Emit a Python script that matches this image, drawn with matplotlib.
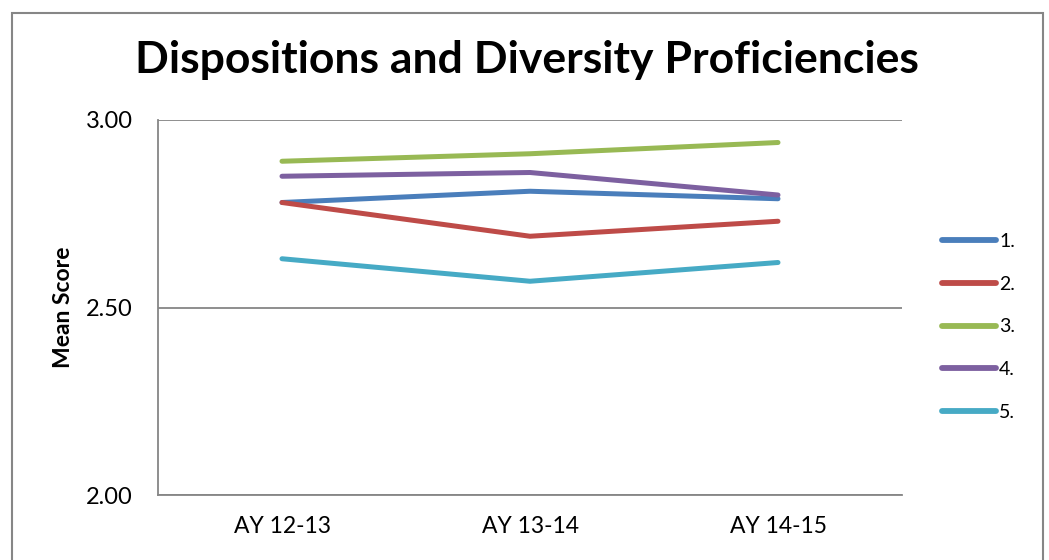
import matplotlib
matplotlib.use("Agg")
import matplotlib.pyplot as plt
from matplotlib.patches import Rectangle

# data
years = ["AY 12-13", "AY 13-14", "AY 14-15"]
labels = ["1.", "2.", "3.", "4.", "5."]
s1 = [2.78, 2.81, 2.79]
s2 = [2.78, 2.69, 2.73]
s3 = [2.89, 2.91, 2.94]
s4 = [2.85, 2.86, 2.80]
s5 = [2.63, 2.57, 2.62]
colors = ["#4A7EBB", "#BE4B48", "#98B954", "#7D60A0", "#46AAC5"]

plt.rcParams['font.family'] = ['Lato', 'DejaVu Sans']

fig = plt.figure(figsize=(10.49, 5.6), dpi=100)
ax = fig.add_axes([158 / 1049, 65 / 560, 744 / 1049, 375 / 560])

x = range(len(years))
for vals, lab, c in zip([s1, s2, s3, s4, s5], labels, colors):
    ax.plot(x, vals, color=c, lw=3.6, solid_capstyle='round', label=lab)

ax.set_xlim(-0.5, 2.5)
ax.set_ylim(2.0, 3.0)
ax.set_yticks([2.0, 2.5, 3.0])
ax.set_yticklabels(["2.00", "2.50", "3.00"])
ax.set_xticks(list(x))
ax.set_xticklabels(years)
ax.tick_params(axis='x', length=0, labelsize=16.5, pad=15)
ax.tick_params(axis='y', length=0, labelsize=17, pad=18)
ax.grid(axis='y', color='#868686', lw=1.3)
ax.set_axisbelow(True)
for side in ['top', 'right']:
    ax.spines[side].set_visible(False)
for side in ['left', 'bottom']:
    ax.spines[side].set_color('#868686')
    ax.spines[side].set_linewidth(1.3)

fig.text(63 / 1049, 1 - 307 / 560, "Mean Score", rotation=90,
         ha='center', va='center', fontsize=16.5, fontweight='bold')
fig.text(0.502, 0.893, "Dispositions and Diversity Proficiencies",
         ha='center', va='center', fontsize=32, fontweight='bold')

leg = ax.legend(loc='center left', bbox_to_anchor=(1.03, 0.448), frameon=False,
                fontsize=14, handlelength=2.8, handletextpad=0.15, labelspacing=1.32)
for h in leg.get_lines():
    h.set_linewidth(4.2)

# outer chart border
fig.patches.append(Rectangle((12 / 1049, -0.05), 1031 / 1049, (547 / 560) + 0.05,
                             transform=fig.transFigure, fill=False,
                             edgecolor='#868686', lw=1.5))

fig.savefig("out.png", dpi=100)
